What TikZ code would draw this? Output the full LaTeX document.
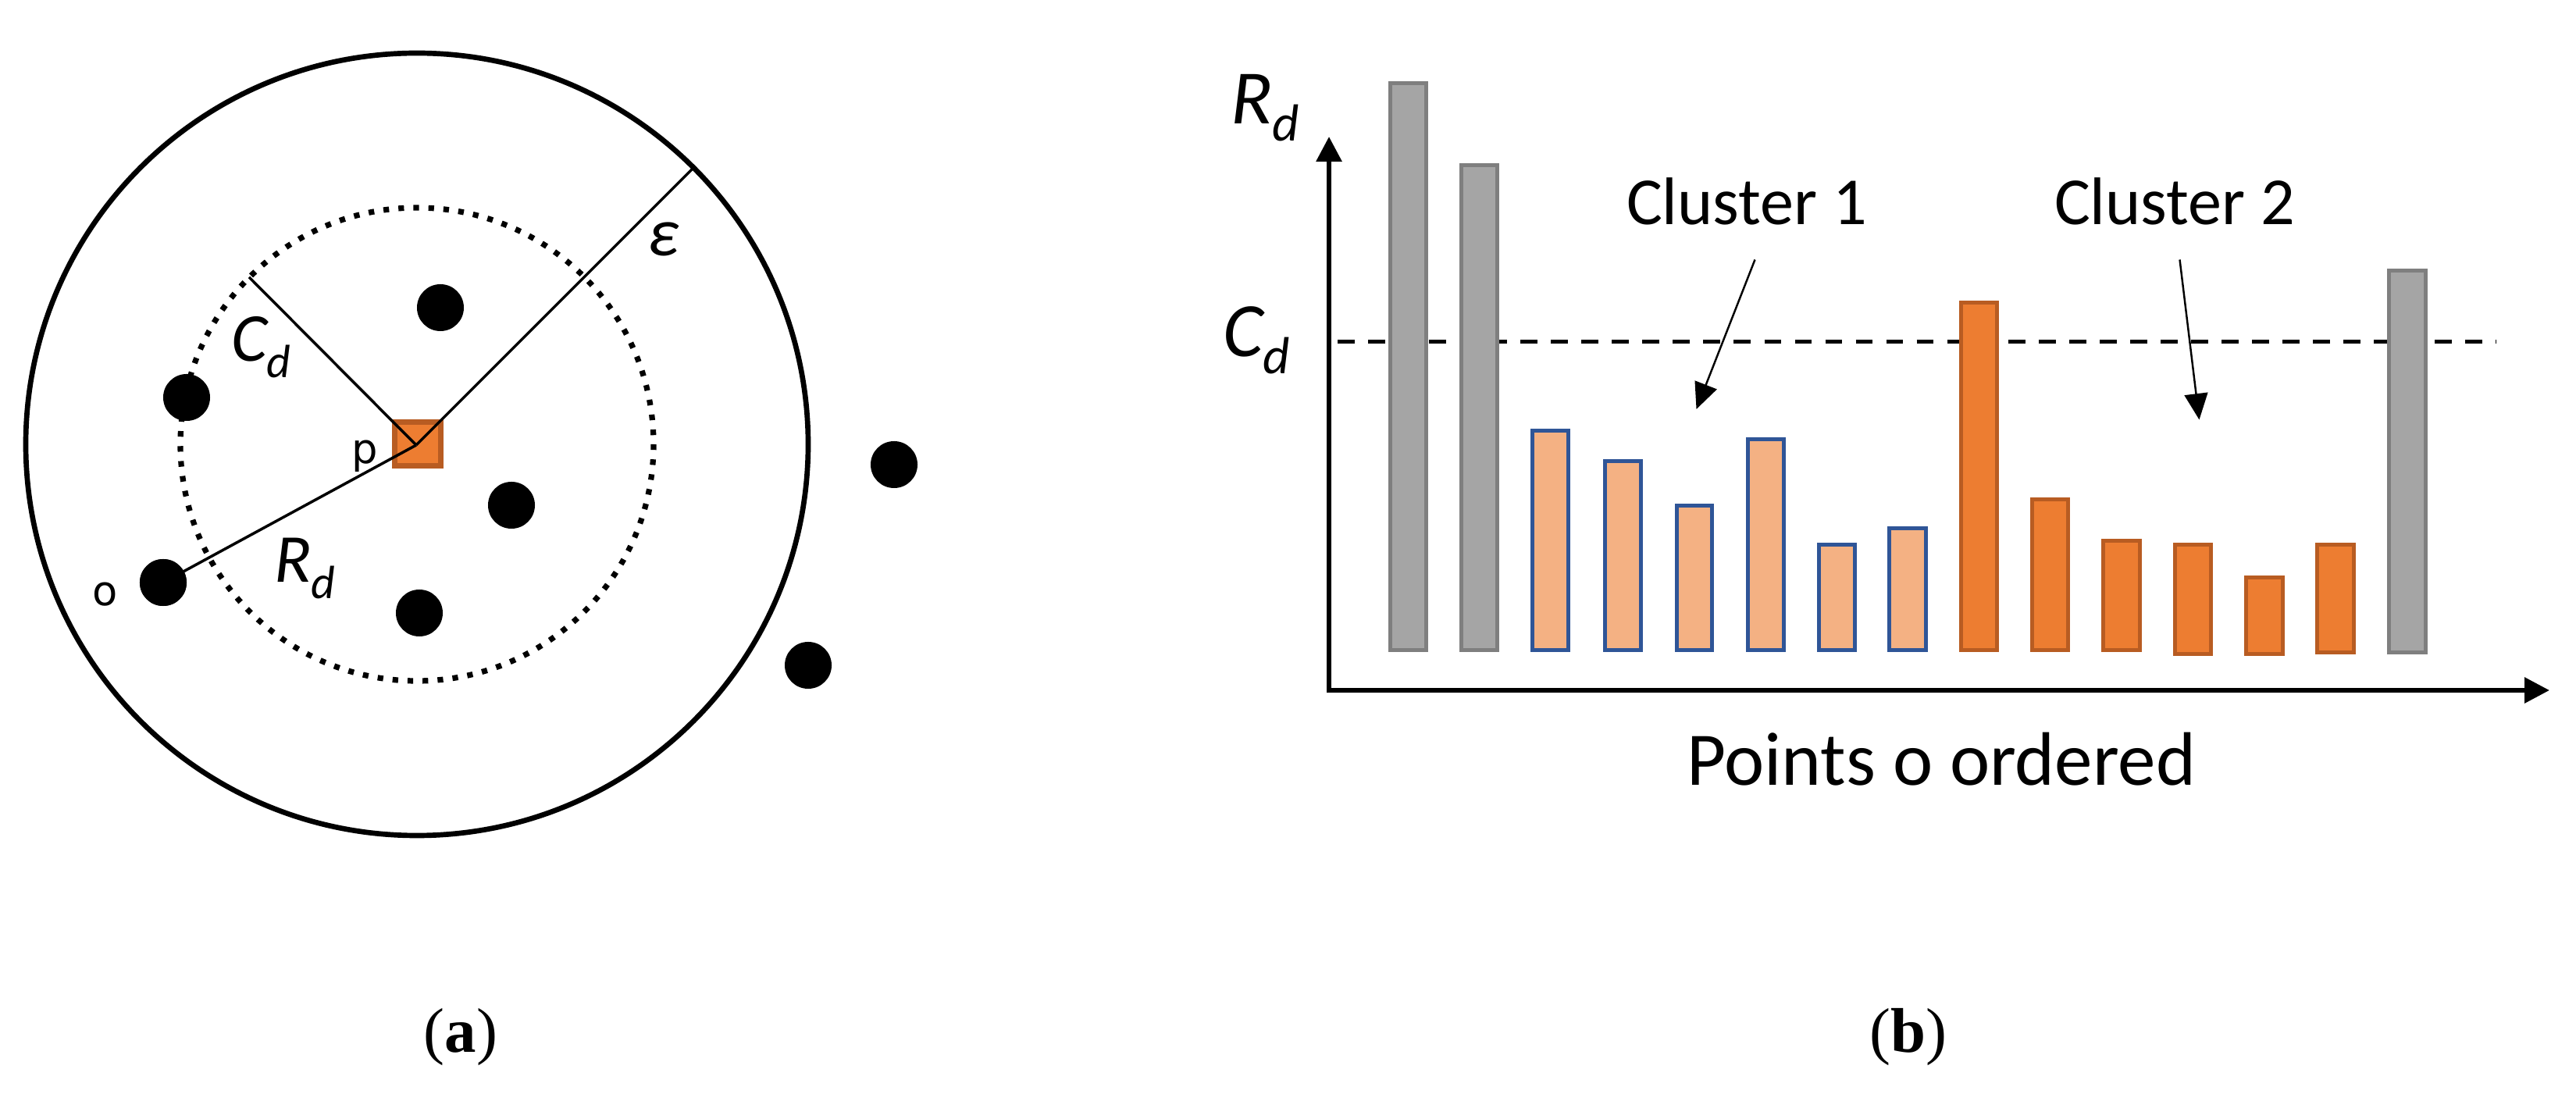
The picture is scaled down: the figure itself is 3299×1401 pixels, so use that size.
\documentclass[tikz,border=0pt]{standalone}
\usepackage{fontspec}
\newfontfamily\calfont{Carlito}
\newfontfamily\dvsfont{DejaVu Sans}
\newfontfamily\serffont{Liberation Serif}
\usetikzlibrary{arrows.meta}
\definecolor{grayFill}{HTML}{A5A5A5}
\definecolor{grayEdge}{HTML}{7F7F7F}
\definecolor{lightFill}{HTML}{F4B183}
\definecolor{blueEdge}{HTML}{2F5597}
\definecolor{orFill}{HTML}{ED7D31}
\definecolor{orEdge}{HTML}{B85C22}
\newcommand{\symlbl}[5]{{\calfont\itshape\fontsize{#1}{#1}\selectfont #3}\raisebox{-#5}{\calfont\itshape\fontsize{#2}{#2}\selectfont #4}}
\tikzset{
  lbl/.style={inner sep=0pt, outer sep=0pt, anchor=base west},
  dotpt/.style={circle, fill=black, inner sep=0pt, minimum size=0.6cm},
  radline/.style={line width=1pt, black},
  bigcirc/.style={line width=1.9pt, black},
  dotcirc/.style={line width=2.05pt, black, dash pattern=on 2.05pt off 3.42pt},
  graybar/.style={line width=1.42pt, draw=grayEdge, fill=grayFill},
  lightbar/.style={line width=1.42pt, draw=blueEdge, fill=lightFill},
  orbar/.style={line width=1.42pt, draw=orEdge, fill=orFill},
  axisline/.style={line width=1.75pt, black, {Triangle[length=9.1pt,width=9.1pt]}-{Triangle[length=9.1pt,width=9.1pt]}},
  cutline/.style={line width=1.42pt, black, dash pattern=on 6.2pt off 4.9pt},
  pointer/.style={line width=0.7pt, black, -{Triangle[length=9.5pt,width=8.5pt]}},
  caption/.style={inner sep=0pt, outer sep=0pt, font=\serffont\fontsize{23pt}{23pt}\selectfont}
}
\begin{document}
\begin{tikzpicture}[x=0.01cm, y=-0.01cm]
\useasboundingbox (0,0) rectangle (3299,1401);

% ---------- panel (a) ----------
\coordinate (ctr) at (534,569);
\coordinate (pc) at (533,570);
\draw[bigcirc] (ctr) circle[radius=501];
\draw[dotcirc] (ctr) circle[radius=303];
\node[draw=orEdge, fill=orFill, line width=2pt, inner sep=0pt,
      minimum width=0.59cm, minimum height=0.56cm] (psq) at (534.6,568.5) {};
\coordinate (cdend) at (319,355);
\coordinate (epsend) at (888,215);
\node[dotpt] (o) at (209,746) {};
\draw[radline] (pc) -- (cdend);
\draw[radline] (pc) -- (epsend);
\draw[radline] (pc) -- (o.center);
\node[dotpt] (o2) at (209,746) {};
\node[dotpt] (q1) at (564,394) {};
\node[dotpt] (q2) at (239,509) {};
\node[dotpt] (q3) at (655,647) {};
\node[dotpt] (q4) at (537,785) {};
\node[dotpt] (q5) at (1145,595) {};
\node[dotpt] (q6) at (1035,852) {};

\node[inner sep=0pt] (olbl) at (135,761.5) {\dvsfont\fontsize{15pt}{15pt}\selectfont o};
\node[inner sep=0pt] (plbl) at (467.5,584) {\dvsfont\fontsize{15pt}{15pt}\selectfont p};
\node[lbl] (cdlbl) at (296,463) {\symlbl{25pt}{17pt}{C}{d}{5.7pt}};
\node[lbl] (rdlbl) at (351,746) {\symlbl{25pt}{17pt}{R}{d}{5.7pt}};
\node[lbl] (epslbl) at (829,328) {\calfont\itshape\fontsize{25pt}{25pt}\selectfont ε};

\node[caption] (capa) at (590,1328) {(\textbf{a})};

% ---------- panel (b) ----------
\coordinate (orig) at (1702,884);
\coordinate (ytip) at (1702,175);
\coordinate (xtip) at (3265,884);
\coordinate (cutL) at (1713,438);
\coordinate (cutR) at (3197,438);
\draw[cutline] (cutL) -- (cutR);

\foreach \xl/\xr/\tp/\bt/\st in {
  1778/1829/104/835/graybar,
  1869/1920/209/835/graybar,
  1960/2011/549/835/lightbar,
  2053/2104/588/835/lightbar,
  2145/2195/645/835/lightbar,
  2236/2287/560/835/lightbar,
  2327/2378/695/835/lightbar,
  2417/2469/674/835/lightbar,
  2509/2560/385/835/orbar,
  2600/2651/637/835/orbar,
  2691/2743/690/835/orbar,
  2783/2834/695/840/orbar,
  2874/2926/737/840/orbar,
  2965/3017/695/838/orbar,
  3057/3109/344/838/graybar}
  \draw[\st] (\xl+2.5,\tp+2.5) rectangle (\xr-2.5,\bt-2.5);

\draw[axisline] (ytip) -- (orig) -- (xtip);

\node[lbl] (rdax) at (1576,159) {\symlbl{28pt}{19pt}{R}{d}{6pt}};
\node[lbl] (cdax) at (1566,457) {\symlbl{28pt}{19pt}{C}{d}{6pt}};

\node[lbl] (cl1) at (2083,288) {\calfont\fontsize{24.5pt}{24.5pt}\selectfont Cluster 1};
\node[lbl] (cl2) at (2631,288) {\calfont\fontsize{24.5pt}{24.5pt}\selectfont Cluster 2};
\coordinate (c1s) at (2247.5,332.5);
\coordinate (c1e) at (2172.5,524);
\coordinate (c2s) at (2791.5,332.5);
\coordinate (c2e) at (2816.5,537.5);
\draw[pointer] (c1s) -- (c1e);
\draw[pointer] (c2s) -- (c2e);

\node[lbl] (xlab) at (2160,1006) {\calfont\fontsize{27.6pt}{27.6pt}\selectfont Points o ordered};

\node[caption] (capb) at (2444,1328) {(\textbf{b})};
\end{tikzpicture}
\end{document}
